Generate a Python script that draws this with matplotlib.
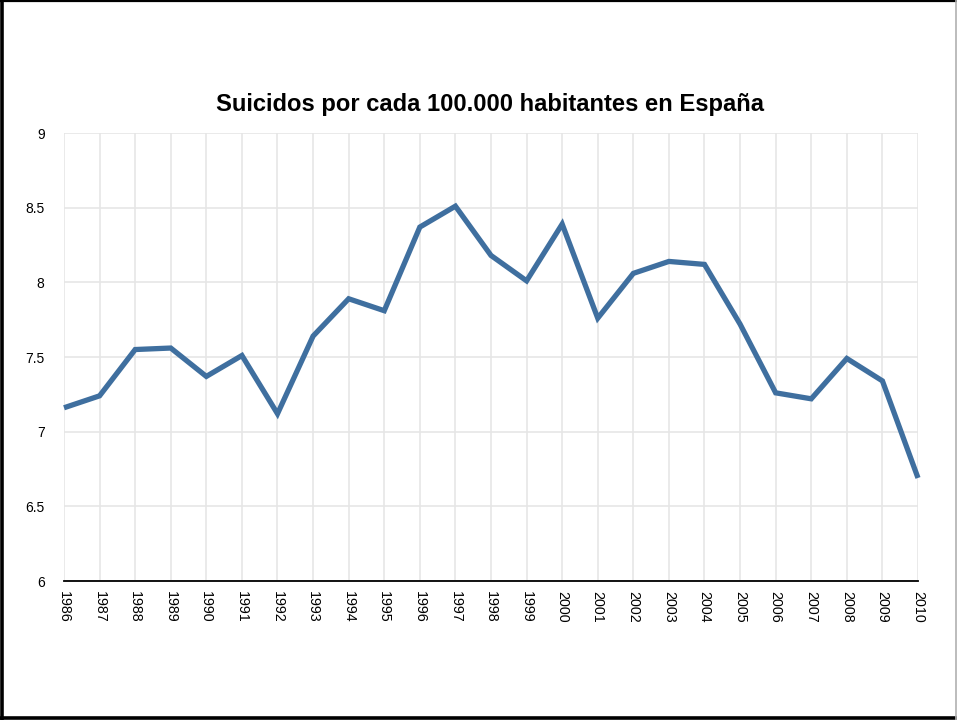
import matplotlib
matplotlib.use("Agg")
import matplotlib.pyplot as plt
from matplotlib.lines import Line2D

years = list(range(1986, 2011))
rates = [7.16, 7.24, 7.55, 7.56, 7.37, 7.51, 7.12, 7.64, 7.89, 7.81,
         8.37, 8.51, 8.18, 8.01, 8.39, 7.76, 8.06, 8.14, 8.12, 7.72,
         7.26, 7.22, 7.49, 7.34, 6.69]
y_ticks = [6, 6.5, 7, 7.5, 8, 8.5, 9]
y_tick_labels = ["6", "6.5", "7", "7.5", "8", "8.5", "9"]
title = "Suicidos por cada 100.000 habitantes en España"

plt.rcParams['font.family'] = ['Liberation Sans', 'DejaVu Sans']

fig = plt.figure(figsize=(9.57, 7.2), dpi=100)
W, H = 957, 720
ax = fig.add_axes([64 / W, 1 - 581 / H, (918 - 64) / W, (581 - 133) / H])

ax.plot(years, rates, color="#3f6f9f", linewidth=3.8, solid_joinstyle="miter",
        solid_capstyle="butt", zorder=3, clip_on=False)

ax.set_xlim(years[0], years[-1])
ax.set_ylim(6, 9)
ax.set_xticks(years)
ax.set_xticklabels([str(y) for y in years], rotation=270, fontsize=10.3)
ax.set_yticks(y_ticks)
ax.set_yticklabels(y_tick_labels, fontsize=10)
ax.tick_params(axis="y", length=0, pad=14)
ax.tick_params(axis="x", length=0, pad=7)
ax.grid(True, color="#e6e6e6", linewidth=1.2, zorder=0)
for side in ("left", "top", "right"):
    ax.spines[side].set_visible(False)
ax.spines["bottom"].set_color("black")
ax.spines["bottom"].set_linewidth(1.3)
ax.spines["bottom"].set_zorder(4)

fig.text(490 / W, 1 - 104 / H, title, ha="center", va="center",
         fontsize=17.1, fontweight="bold")

# outer frame: dark on left, top and bottom, light grey on the right
def frame_line(xs, ys, color, lw):
    fig.add_artist(Line2D(xs, ys, transform=fig.transFigure, color=color,
                          linewidth=lw, solid_capstyle="butt"))

frame_line([1.5 / W, 1.5 / W], [0, 1], "black", 2.6)
frame_line([0, 1], [1 - 1 / H, 1 - 1 / H], "black", 1.6)
frame_line([0, 1], [2 / H, 2 / H], "black", 2.6)
frame_line([1 - 1.5 / W, 1 - 1.5 / W], [0, 1], "#b0b0b0", 1.2)

fig.savefig("out.png", dpi=100)
